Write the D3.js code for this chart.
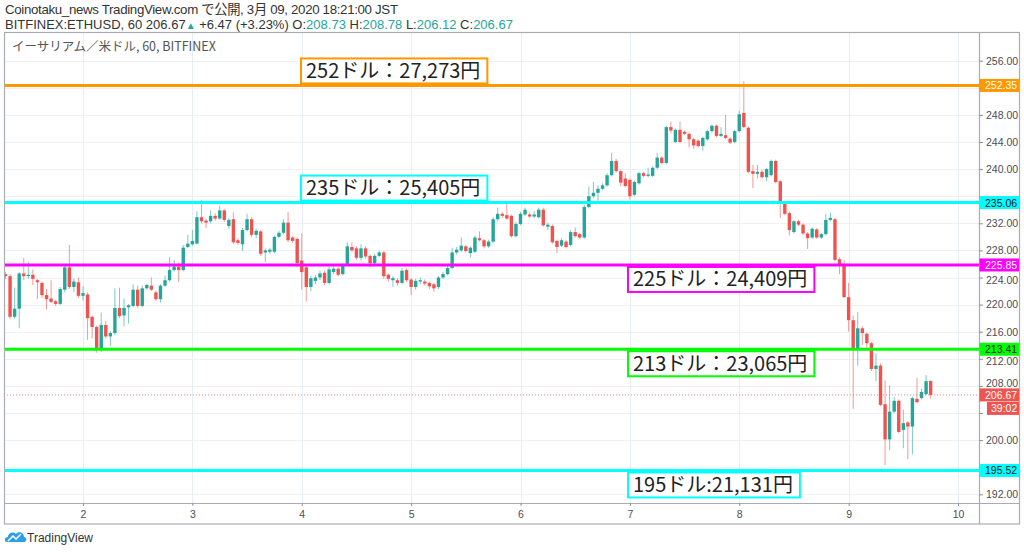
<!DOCTYPE html>
<html><head><meta charset="utf-8">
<script src="https://cdn.jsdelivr.net/npm/d3@7"></script>
<style>body{margin:0;background:#fff}svg{display:block}</style>
</head><body><svg id="c" width="1024" height="552"></svg>
<script>
// ---- data (ETHUSD 1h, Bitfinex, from Mar 1 07:00) ----
const opens = [
224.5,224.2,218.2,219.4,224.6,224.2,224.4,223.6,223.2,221.4,
220.9,220.5,220.1,222.2,225.5,222.6,223.3,221.3,221.5,218.2,
216.7,213.3,217.0,215.3,215.8,219.5,218.4,219.6,219.8,222.2,
219.8,222.4,222.8,221.8,220.8,222.8,223.6,225.1,225.6,225.1,
228.5,228.9,229.0,232.9,232.4,232.3,233.1,232.7,233.9,231.6,
232.6,229.5,228.9,231.0,232.6,230.3,230.8,227.7,227.8,227.8,
230.0,230.6,232.1,229.9,229.7,226.5,225.5,222.6,223.5,224.0,
224.7,223.2,224.8,225.3,224.5,226.0,228.5,228.3,226.9,228.3,
227.2,226.1,227.2,227.7,224.4,223.6,223.6,223.2,225.1,223.7,
222.6,223.4,223.4,223.2,223.0,222.6,224.0,224.5,225.4,227.7,
228.0,228.6,227.6,227.8,229.8,229.5,228.6,229.3,232.6,233.4,
233.2,233.1,230.1,231.9,233.3,233.3,233.0,232.9,234.0,231.5,
231.6,229.4,228.7,229.3,228.8,230.7,230.4,229.9,234.4,236.0,
236.5,237.1,237.6,239.1,241.2,239.7,238.6,238.4,236.2,237.9,
239.4,239.0,239.0,240.2,241.7,240.9,246.2,244.0,245.8,245.5,
245.2,244.4,244.2,243.4,244.4,245.6,246.4,244.9,245.0,244.5,
244.0,245.6,248.3,246.1,239.7,239.3,239.6,238.8,239.1,241.2,
238.2,235.1,233.5,230.7,232.3,231.8,230.5,229.9,231.1,229.9,
230.4,232.5,232.6,226.7,225.8,221.1,217.7,213.4,216.5,215.7,
214.3,210.5,211.0,205.3,200.1,204.2,205.8,201.5,202.6,202.0,
206.1,206.2,206.8,208.73];
const highs = [
224.8,224.5,222.5,224.8,226.9,226.3,225.2,223.8,223.4,222.3,
223.6,220.7,222.6,225.8,228.8,223.8,224.0,222.7,221.8,218.4,
216.9,218.8,217.6,216.1,222.4,222.5,220.9,220.1,223.0,222.8,
222.8,223.1,224.0,222.1,223.0,224.3,227.0,226.6,226.2,228.8,
230.3,231.0,233.8,235.4,232.7,233.9,233.5,234.6,234.1,232.8,
233.6,229.8,231.3,233.4,232.9,231.2,231.0,228.3,228.4,230.2,
230.9,232.6,233.7,230.1,229.9,230.5,226.0,224.2,224.4,225.0,
225.0,225.6,225.6,225.5,226.1,229.2,229.2,228.6,228.9,228.6,
227.4,227.5,228.0,227.9,224.6,224.2,223.9,225.4,225.3,223.9,
223.8,224.0,223.7,223.4,223.2,224.2,224.8,225.7,228.4,228.5,
229.9,228.8,228.6,230.2,230.8,229.7,229.6,232.9,234.3,233.7,
235.2,233.3,232.2,233.7,234.3,233.6,233.8,234.3,234.3,232.1,
231.8,229.6,229.8,229.5,231.0,231.4,230.6,234.7,237.4,238.1,
237.6,237.9,239.4,242.4,241.5,239.9,239.4,238.6,238.3,239.6,
239.6,240.2,240.4,242.4,241.9,246.4,247.0,246.0,247.0,245.7,
245.4,244.6,244.4,244.8,245.8,246.6,246.6,246.2,248.0,244.7,
245.8,248.6,253.0,246.3,240.6,240.6,239.9,240.2,241.4,241.4,
238.4,235.3,233.7,232.5,232.5,232.0,230.7,231.4,231.3,230.6,
233.4,233.6,232.8,227.0,226.6,223.2,218.4,218.9,216.8,215.9,
214.5,212.8,211.3,208.8,208.1,206.4,206.0,204.5,202.8,206.4,
209.2,207.6,209.6,208.78];
const lows = [
223.8,217.9,217.9,216.5,223.6,223.8,222.9,220.8,221.0,219.3,
220.2,219.8,219.9,221.8,222.3,221.8,221.0,220.6,214.8,215.0,
212.9,213.0,215.0,213.9,215.5,218.0,216.8,217.2,219.6,219.5,
219.6,222.2,222.0,220.5,220.3,222.6,223.4,224.9,223.3,224.9,
228.3,228.7,228.9,232.0,231.3,232.0,232.4,232.5,232.2,231.2,
229.0,228.8,227.9,230.8,230.0,229.8,227.2,226.3,227.5,227.6,
229.8,230.4,229.2,229.1,225.5,222.2,220.5,222.0,223.0,223.6,
222.9,223.0,224.5,224.2,224.3,225.8,227.8,226.6,226.5,226.8,
225.5,225.8,227.0,223.8,223.4,222.6,222.8,223.0,223.3,221.4,
222.2,223.0,222.8,222.3,221.9,222.3,223.8,224.3,225.2,227.4,
227.8,227.7,226.9,227.6,229.3,228.3,228.4,229.1,232.3,232.8,
232.5,229.9,229.9,231.7,233.1,232.8,232.7,232.7,231.5,231.0,
229.0,227.6,228.5,228.3,228.6,229.9,229.7,229.7,234.2,235.8,
235.0,236.9,237.4,238.9,239.5,237.5,237.3,235.5,236.0,237.7,
238.8,238.8,238.8,240.0,240.7,240.7,245.3,243.8,243.8,245.0,
243.2,243.0,243.2,242.7,244.2,245.4,244.7,244.7,244.4,243.7,
243.8,245.4,246.0,239.4,237.2,238.6,238.6,238.2,238.9,237.9,
232.8,233.2,230.2,230.5,231.6,230.3,228.2,229.7,229.7,229.7,
230.2,232.3,226.4,224.5,221.0,216.0,204.6,211.0,214.0,213.3,
210.2,208.7,205.0,196.3,198.5,204.0,201.0,198.8,197.2,197.9,
205.4,206.0,206.6,206.12];
const closes = [
224.2,218.2,219.4,224.6,224.2,224.4,223.8,223.3,221.4,220.8,
220.4,220.1,222.3,225.5,222.6,223.4,221.3,221.7,218.0,216.7,
213.3,217.0,215.3,215.8,219.5,218.3,219.5,219.9,222.2,219.8,
222.4,222.9,222.2,220.8,222.8,223.6,225.1,225.6,225.1,228.4,
229.0,229.4,232.9,232.3,232.1,233.1,232.7,233.9,232.5,232.5,
229.2,229.1,231.0,232.6,230.3,230.9,227.5,228.0,228.1,230.0,
230.6,232.1,229.5,229.4,226.1,224.8,222.6,223.9,224.0,224.6,
223.2,225.2,225.3,224.4,225.8,228.6,228.0,226.9,228.3,227.1,
226.1,227.2,227.7,224.2,223.8,223.9,223.2,225.0,223.6,222.6,
223.5,223.6,223.1,222.7,222.4,224.0,224.5,225.4,227.7,228.1,
228.7,227.9,228.4,229.9,229.5,228.6,229.3,232.6,233.4,233.1,
232.7,230.1,231.9,233.4,234.0,233.0,233.3,234.0,231.7,231.8,
229.2,228.5,229.5,228.5,230.7,230.1,229.9,234.4,236.0,236.5,
237.1,237.6,239.1,241.2,239.7,238.0,237.5,236.0,238.1,239.4,
239.0,239.2,240.2,241.7,240.9,246.2,245.7,245.8,244.0,245.2,
244.4,243.5,243.4,244.6,245.6,246.4,244.9,245.2,244.6,243.9,
245.6,248.1,246.2,239.6,239.3,239.6,238.8,240.0,241.2,238.1,
235.0,233.4,231.0,232.3,231.8,230.5,229.8,231.2,229.9,230.4,
232.5,232.8,226.6,225.8,221.1,217.7,213.4,216.5,215.8,214.3,
210.5,211.0,205.2,200.1,204.2,205.8,201.2,202.5,202.0,206.2,
205.6,207.1,208.7,206.67];

const dayTicks = [2,3,4,5,6,7,8,9,10];
const priceTicks = [192,196,200,204,208,212,216,220,224,228,232,236,240,244,248,252,256];
const levels = [252.35, 235.06, 225.85, 213.41, 195.52];
const levelColors = ["#ff9800", "#00ffff", "#ff00ff", "#00ff00", "#00ffff"];
const levelTextColors = ["#ffffff", "#131722", "#ffffff", "#131722", "#131722"];
const levelLabels = ["252ドル：27,273円", "235ドル：25,405円", "225ドル：24,409円", "213ドル：23,065円", "195ドル:21,131円"];
const lastPrice = 206.67;
const countdown = "39:02";
const headerLine1 = "Coinotaku_news TradingView.com で公開, 3月 09, 2020 18:21:00 JST";
const symbolTitle = "イーサリアム／米ドル, 60, BITFINEX";

// ---- layout ----
const W = 1024, H = 552;
const L = 4, R = 979, T = 33, B = 503, AX = 1019, AB = 524;
const UP = "#26a69a", DN = "#ef5350";
const FONT = '"Liberation Sans", Arial, "Noto Sans CJK JP", sans-serif';
const JFONT = '"Noto Sans CJK JP", sans-serif';

const svg = d3.select("#c");
svg.append("rect").attr("width", W).attr("height", H).attr("fill", "#fff");

const t0 = Date.UTC(2020, 2, 1, 7);
const candles = opens.map((o, i) => ({ t: new Date(t0 + i * 3600e3), o, h: highs[i], l: lows[i], c: closes[i] }));

const x = d3.scaleUtc().domain([new Date(Date.UTC(2020, 2, 2)), new Date(Date.UTC(2020, 2, 10))]).range([83, 958]);
const y = d3.scaleLinear().domain([192, 256]).range([494.3, 60.7]);

svg.append("clipPath").attr("id", "plot").append("rect").attr("x", L).attr("y", T).attr("width", R - L).attr("height", B - T);

// grid
const grid = svg.append("g").attr("clip-path", "url(#plot)");
grid.selectAll("line.h").data(priceTicks).join("line")
  .attr("x1", L).attr("x2", R).attr("y1", d => Math.round(y(d)) + 0.5).attr("y2", d => Math.round(y(d)) + 0.5)
  .attr("stroke", "#edf1f6").attr("stroke-width", 1);
const dayDates = dayTicks.map(d => new Date(Date.UTC(2020, 2, d)));
grid.selectAll("line.v").data(dayDates).join("line")
  .attr("y1", T).attr("y2", B).attr("x1", d => Math.round(x(d)) + 0.5).attr("x2", d => Math.round(x(d)) + 0.5)
  .attr("stroke", "#e6edf3").attr("stroke-width", 1);

// header
svg.append("text").attr("x", 5).attr("y", 14).attr("font-family", FONT).attr("font-size", 13.3).attr("fill", "#333")
  .attr("textLength", 393).attr("lengthAdjust", "spacing").text(headerLine1);
const h2 = svg.append("text").attr("x", 5).attr("y", 29).attr("font-family", FONT).attr("font-size", 13).attr("fill", "#333");
const parts = [
  ["BITFINEX:ETHUSD, 60 206.67", "#333"], ["▲", UP], [" +6.47 (+3.23%) O:", "#333"], ["208.73", UP],
  [" H:", "#333"], ["208.78", UP], [" L:", "#333"], ["206.12", UP], [" C:", "#333"], ["206.67", UP]
];
parts.forEach(([s, c]) => h2.append("tspan").attr("fill", c).attr("font-size", s === "▲" ? 10 : 13).text(s));

svg.append("text").attr("x", 12).attr("y", 51).attr("font-family", JFONT).attr("font-size", 12.5).attr("fill", "#555")
  .text(symbolTitle);

// candles
const cg = svg.append("g").attr("clip-path", "url(#plot)");
const bw = 3.4;
cg.selectAll("line.w").data(candles).join("line")
  .attr("x1", d => x(d.t)).attr("x2", d => x(d.t))
  .attr("y1", d => y(d.h)).attr("y2", d => y(d.l))
  .attr("stroke", d => d.c >= d.o ? UP : DN).attr("stroke-opacity", 0.6).attr("stroke-width", 1);
cg.selectAll("rect.b").data(candles).join("rect")
  .attr("x", d => x(d.t) - bw / 2).attr("width", bw)
  .attr("y", d => y(Math.max(d.o, d.c)))
  .attr("height", d => Math.max(1, Math.abs(y(d.o) - y(d.c))))
  .attr("fill", d => d.c >= d.o ? UP : DN);

// last price dotted line
svg.append("line").attr("x1", L).attr("x2", R).attr("y1", y(lastPrice)).attr("y2", y(lastPrice))
  .attr("stroke", DN).attr("stroke-opacity", 0.7).attr("stroke-dasharray", "1,2").attr("stroke-width", 1);

// level lines
svg.selectAll("line.lv").data(levels).join("line")
  .attr("x1", L).attr("x2", R).attr("y1", d => y(d)).attr("y2", d => y(d))
  .attr("stroke", (d, i) => levelColors[i]).attr("stroke-width", 3);

// level annotation boxes
const boxLeft = [301, 301, 628, 628, 628];
const boxAbove = [true, true, false, false, false];
levels.forEach((lv, i) => {
  const g = svg.append("g");
  const txt = g.append("text").attr("font-family", JFONT).attr("font-size", 20).attr("fill", "#222")
    .attr("x", boxLeft[i] + 5).text(levelLabels[i]);
  const tw = txt.node().getComputedTextLength();
  const bh = 25;
  const by = boxAbove[i] ? y(lv) - 2 - bh : y(lv) + 2;
  g.insert("rect", "text").attr("x", boxLeft[i]).attr("y", by).attr("width", tw + 12).attr("height", bh)
    .attr("fill", "#fff").attr("stroke", levelColors[i]).attr("stroke-width", 2);
  txt.attr("y", by + 19.5);
});

// frame
svg.append("rect").attr("x", L + 0.5).attr("y", T - 0.5).attr("width", AX - L).attr("height", AB - T + 0.5)
  .attr("fill", "none").attr("stroke", "#a9acb3").attr("stroke-width", 1.2);
svg.append("line").attr("x1", R + 0.5).attr("x2", R + 0.5).attr("y1", T).attr("y2", AB).attr("stroke", "#a9acb3").attr("stroke-width", 1.2);
svg.append("line").attr("x1", L).attr("x2", AX).attr("y1", B + 0.5).attr("y2", B + 0.5).attr("stroke", "#a9acb3").attr("stroke-width", 1.2);

// badge centres (used to hide / nudge covered tick labels)
const badgeYs = levels.map(v => y(v)).concat([y(lastPrice), y(lastPrice) + 13.5]);
function nearest(d) {
  let best = null;
  badgeYs.forEach(by => { const dd = y(d) - by; if (best === null || Math.abs(dd) < Math.abs(best)) best = dd; });
  return best;
}

// price axis
const ya = svg.append("g").attr("transform", `translate(${R},0)`)
  .call(d3.axisRight(y).tickValues(priceTicks).tickFormat(d3.format(".2f")).tickSize(4).tickPadding(3));
ya.select(".domain").remove();
ya.selectAll("line").attr("stroke", "#8c8f96");
ya.selectAll("text").attr("font-family", FONT).attr("font-size", 10.5).attr("fill", "#4a4e57")
  .attr("display", d => Math.abs(nearest(d)) < 8.5 ? "none" : null)
  .attr("transform", d => { const n = nearest(d); return Math.abs(n) < 13 ? `translate(0,${n > 0 ? 2.5 : -2.5})` : null; });

// time axis
const xa = svg.append("g").attr("transform", `translate(0,${B})`)
  .call(d3.axisBottom(x).tickValues(dayDates).tickFormat(d => d.getUTCDate()).tickSize(3).tickPadding(5));
xa.select(".domain").remove();
xa.selectAll("line").attr("stroke", "#8c8f96");
xa.selectAll("text").attr("font-family", FONT).attr("font-size", 10.5).attr("fill", "#4a4e57");

// axis value badges
const badges = levels.map((v, i) => ({ v, bg: levelColors[i], fg: levelTextColors[i] }));
badges.push({ v: lastPrice, bg: DN, fg: "#fff" });
const bg = svg.append("g");
badges.forEach(b => {
  const yy = y(b.v);
  bg.append("rect").attr("x", R + 0.5).attr("y", yy - 6.5).attr("width", AX - R - 0.5).attr("height", 13).attr("fill", b.bg);
  bg.append("text").attr("x", R + 6).attr("y", yy + 4).attr("font-family", FONT).attr("font-size", 10.5)
    .attr("fill", b.fg).text(d3.format(".2f")(b.v));
});
const cy = y(lastPrice) + 7;
bg.append("rect").attr("x", 987).attr("y", cy).attr("width", AX - 987).attr("height", 13).attr("fill", DN);
bg.append("text").attr("x", 991).attr("y", cy + 10).attr("font-family", FONT).attr("font-size", 10.5).attr("fill", "#fff").text(countdown);

// TradingView logo
const lg = svg.append("g").attr("transform", "translate(5,530)");
lg.append("path").attr("d", "M2,12 C-1,12 -1,7 3,7 C3,3 8,1 11,4 C13,1 19,2 19,7 C22,7 22,12 19,12 Z").attr("fill", "#2d9fe8");
lg.append("path").attr("d", "M3,11 L8,6 L11,9 L16,4").attr("fill", "none").attr("stroke", "#fff").attr("stroke-width", 1.5);
svg.append("text").attr("x", 27).attr("y", 542).attr("font-family", FONT).attr("font-size", 12).attr("fill", "#333").text("TradingView");
</script></body></html>
